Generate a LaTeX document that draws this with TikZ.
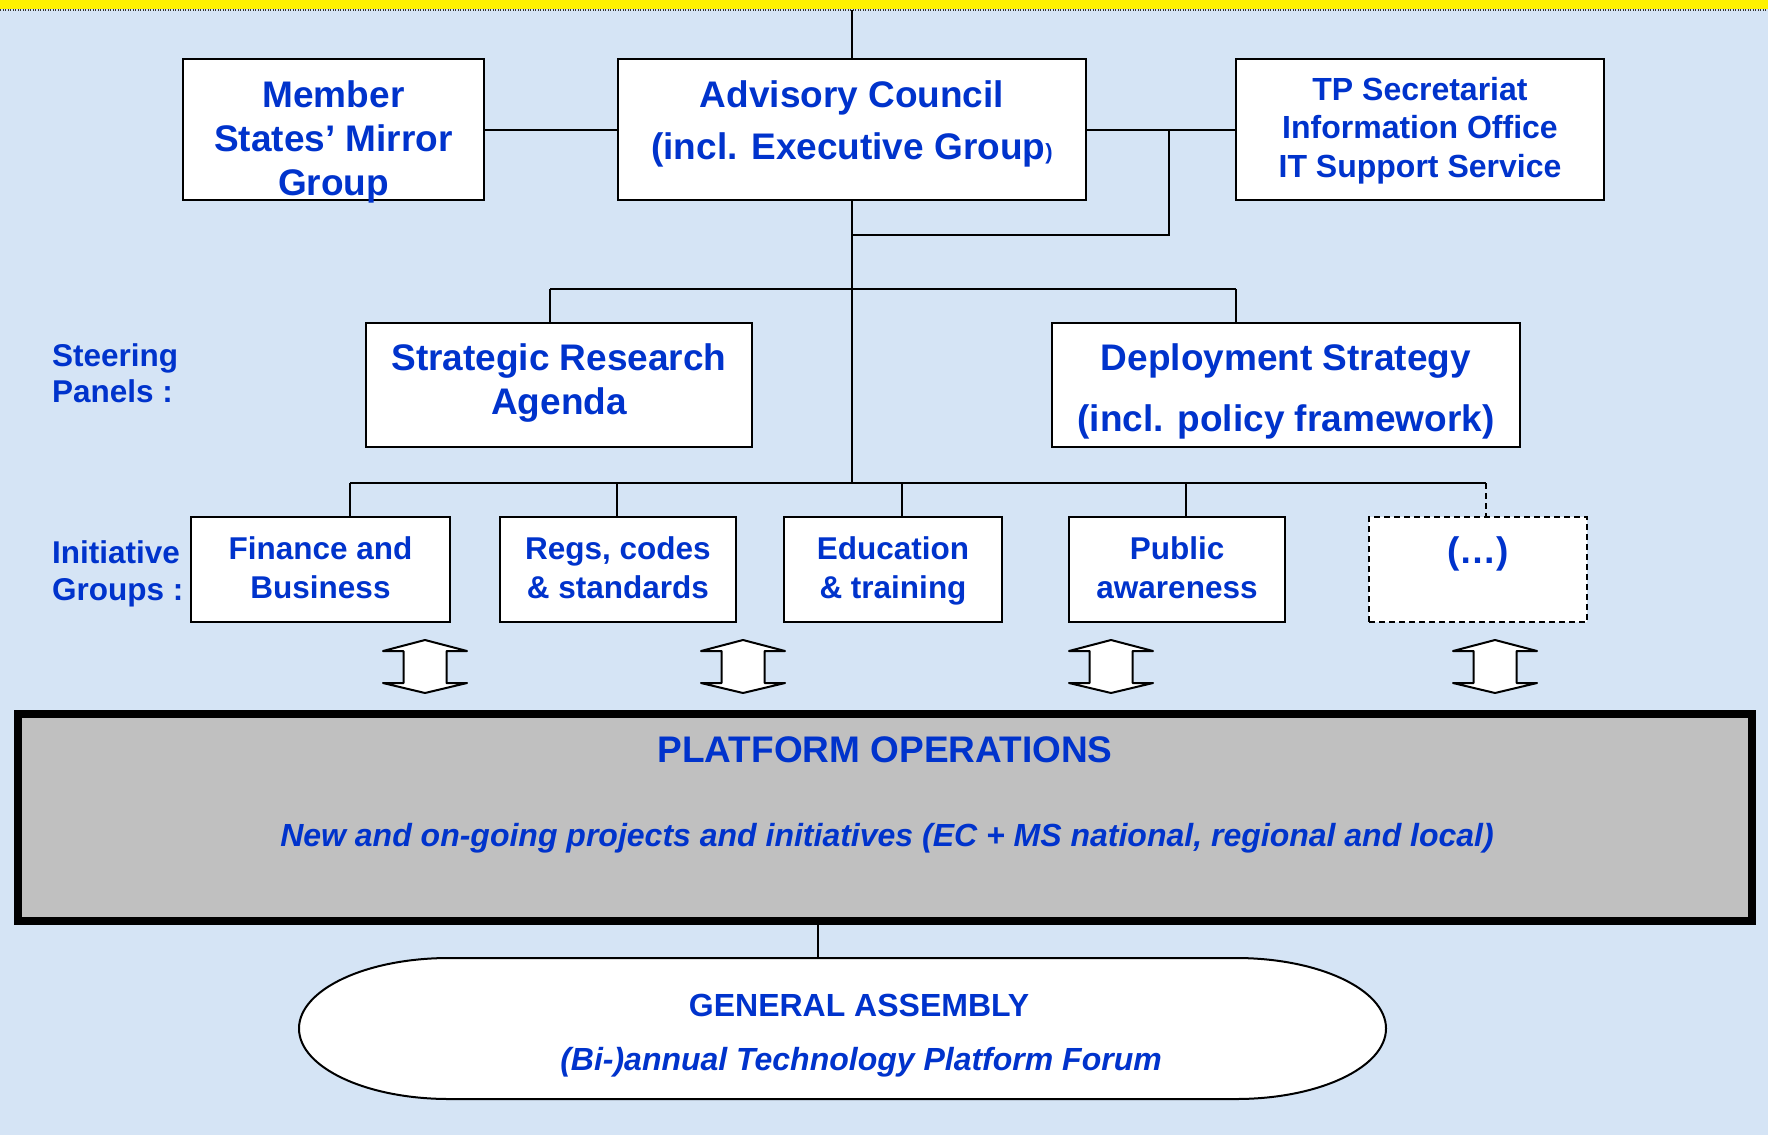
\documentclass[tikz,border=0pt]{standalone}
\usepackage{fontspec}
\setmainfont{Liberation Sans}
\definecolor{bgblue}{RGB}{213,228,245}
\definecolor{tblue}{RGB}{0,51,204}
\definecolor{platgray}{RGB}{192,192,192}
\begin{document}
\begin{tikzpicture}[x=1pt,y=-1pt,
  box/.style={draw=black, line width=2.2pt, fill=white, inner sep=0pt, rectangle},
  dbox/.style={box, dash pattern=on 6pt off 4pt},
  lbl/.style={text=tblue, font=\bfseries\fontsize{37}{44}\selectfont, anchor=base, inner sep=0pt},
  lbls/.style={lbl, font=\bfseries\fontsize{31.5}{38}\selectfont},
  lbli/.style={lbl, font=\bfseries\itshape\fontsize{32}{38}\selectfont},
  conn/.style={line width=2pt, draw=black},
  dblarr/.style={draw=black, line width=2pt, fill=white, line join=round}
]
\useasboundingbox (0,0) rectangle (1768,1135);
\fill[bgblue] (0,0) rectangle (1768,1135);
\fill[yellow] (0,0) rectangle (1768,9);
\draw[black!80, line width=2pt, dash pattern=on 1pt off 1.5pt] (0,10) -- (1768,10);

% top row boxes
\node[box, minimum width=301, minimum height=141] (ms) at (333.5,129.5) {};
\node[box, minimum width=468, minimum height=141] (ac) at (852,129.5) {};
\node[box, minimum width=368, minimum height=141] (tp) at (1420,129.5) {};
% steering panels
\node[box, minimum width=386, minimum height=124] (sra) at (559,385) {};
\node[box, minimum width=467.5, minimum height=124] (dep) at (1286,385) {};
% initiative groups
\node[box, minimum width=259, minimum height=105] (fin) at (320.5,569.5) {};
\node[box, minimum width=236, minimum height=105] (regs) at (618,569.5) {};
\node[box, minimum width=218, minimum height=105] (edu) at (893,569.5) {};
\node[box, minimum width=216.5, minimum height=105] (pub) at (1177,569.5) {};
\node[dbox, minimum width=218, minimum height=105] (dots) at (1478,569.5) {};

% platform operations
\node[draw=black, line width=8pt, fill=platgray, rectangle, inner sep=0pt,
      minimum width=1734.5, minimum height=207] (plat) at (884.75,817.5) {};

% general assembly (stadium shape)
\draw[line width=2pt, fill=white] (449,958) -- (1236,958)
   arc[start angle=-90, end angle=90, x radius=150, y radius=70.5]
   -- (449,1099)
   arc[start angle=90, end angle=270, x radius=150, y radius=70.5] -- cycle;
\coordinate (gatop) at (818,958);

% connectors
\coordinate (topend) at (852,10);
\draw[conn] (ac.north) -- (topend);
\draw[conn] (ms.east) -- (ac.west);
\draw[conn] (ac.east) -- (tp.west);
\coordinate (j1) at (1169,129.5);
\coordinate (j2) at (1169,235);
\coordinate (j3) at (852,235);
\draw[conn] (j1) -- (j2) -- (j3);
\coordinate (bus) at (852,483);
\draw[conn] (ac.south) -- (bus);
\coordinate (h1) at (550,289);
\coordinate (h2) at (1236,289);
\draw[conn] (h1) -- (h2);
\draw[conn] (h1) -- (h1 |- sra.north);
\draw[conn] (h2) -- (h2 |- dep.north);
\coordinate (b1) at (350,483);
\coordinate (b2) at (617,483);
\coordinate (b3) at (902,483);
\coordinate (b4) at (1186,483);
\coordinate (b5) at (1486,483);
\draw[conn] (b1) -- (b5);
\draw[conn] (b1) -- (b1 |- fin.north);
\draw[conn] (b2) -- (b2 |- regs.north);
\draw[conn] (b3) -- (b3 |- edu.north);
\draw[conn] (b4) -- (b4 |- pub.north);
\draw[conn, dash pattern=on 6pt off 4pt] (b5) -- (b5 |- dots.north);
\draw[conn] (plat.south -| gatop) -- (gatop);

% double arrows
\foreach \cx in {425,743,1111,1495}{
  \draw[dblarr] (\cx,640) -- (\cx+42,651) -- (\cx+21.5,651) -- (\cx+21.5,683)
     -- (\cx+42,683) -- (\cx,693) -- (\cx-42,683) -- (\cx-21.5,683)
     -- (\cx-21.5,651) -- (\cx-42,651) -- cycle;
}

% texts
\node[lbl] (ms1) at (333.5,107) {Member};
\node[lbl] (ms2) at (333.5,151) {States’ Mirror};
\node[lbl] (ms3) at (333.5,195) {Group};
\node[lbl] (ac1) at (852,107) {Advisory Council};
\node[lbl] (ac2) at (852,159) {(incl. Executive Group{\fontsize{22}{22}\selectfont)}};
\node[lbl, font=\bfseries\fontsize{32}{38}\selectfont] (tp1) at (1420,100.5) {TP Secretariat};
\node[lbl, font=\bfseries\fontsize{32}{38}\selectfont] (tp2) at (1420,138.5) {Information Office};
\node[lbl, font=\bfseries\fontsize{32}{38}\selectfont] (tp3) at (1420,177) {IT Support Service};
\node[lbl] (sra1) at (559,370) {Strategic Research};
\node[lbl] (sra2) at (559,414) {Agenda};
\node[lbl] (dep1) at (1286,370) {Deployment Strategy};
\node[lbl] (dep2) at (1286,431) {(incl. policy framework)};
\node[lbls, anchor=base west] (st1) at (52,366) {Steering};
\node[lbls, anchor=base west] (st2) at (52,402) {Panels :};
\node[lbls, anchor=base west] (ig1) at (52,563) {Initiative};
\node[lbls, anchor=base west] (ig2) at (52,600) {Groups :};
\node[lbls] (fin1) at (320.5,559) {Finance and};
\node[lbls] (fin2) at (320.5,598) {Business};
\node[lbls] (regs1) at (618,559) {Regs, codes};
\node[lbls] (regs2) at (618,598) {\& standards};
\node[lbls] (edu1) at (893,559) {Education};
\node[lbls] (edu2) at (893,598) {\& training};
\node[lbls] (pub1) at (1177,559) {Public};
\node[lbls] (pub2) at (1177,598) {awareness};
\node[lbl] (dots1) at (1478,563) {(…)};
\node[lbl] (plat1) at (885,762) {PLATFORM OPERATIONS};
\node[lbli] (plat2) at (887,846) {New and on-going projects and initiatives (EC + MS national, regional and local)};
\node[lbl, font=\bfseries\fontsize{32}{38}\selectfont] (ga1) at (859,1016) {GENERAL ASSEMBLY};
\node[lbli] (ga2) at (861,1070) {(Bi-)annual Technology Platform Forum};
\end{tikzpicture}
\end{document}
